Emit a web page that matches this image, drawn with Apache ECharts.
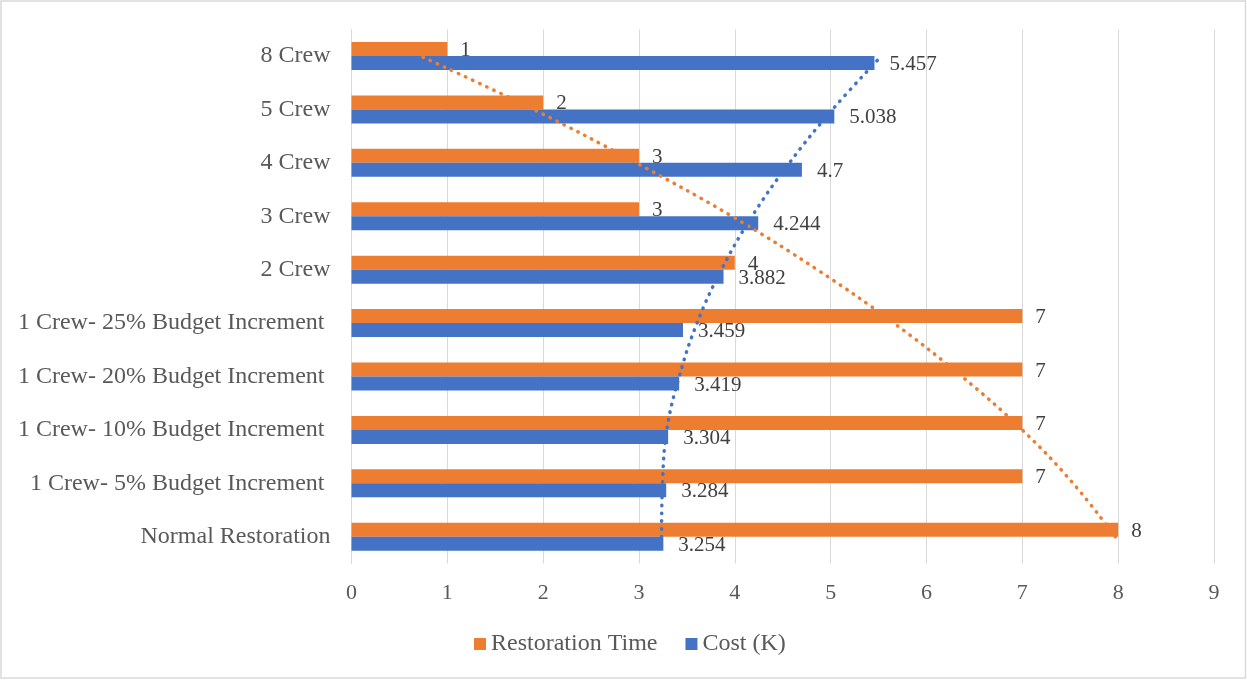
<!DOCTYPE html>
<html>
<head>
<meta charset="utf-8">
<script src="https://cdn.jsdelivr.net/npm/echarts@6/dist/echarts.min.js"></script>
<style>
html,body{margin:0;padding:0;background:#fff;}
#chart{width:1247px;height:680px;}
</style>
</head>
<body>
<div id="chart"></div>
<script>
// Categories, bottom to top
const categories = [
  'Normal Restoration',
  '1 Crew- 5% Budget Increment ',
  '1 Crew- 10% Budget Increment ',
  '1 Crew- 20% Budget Increment ',
  '1 Crew- 25% Budget Increment ',
  '2 Crew',
  '3 Crew',
  '4 Crew',
  '5 Crew',
  '8 Crew'
];
const restorationTime = [8, 7, 7, 7, 7, 4, 3, 3, 2, 1];
const costK = [3.254, 3.284, 3.304, 3.419, 3.459, 3.882, 4.244, 4.7, 5.038, 5.457];
// Dotted trendlines, values at each category
const restorationTrend = [7.97, 7.53, 7.00, 6.37, 5.66, 4.86, 3.97, 2.97, 1.90, 0.72];
const costTrend = [3.235, 3.245, 3.29, 3.42, 3.605, 3.86, 4.18, 4.57, 5.02, 5.53];
const xTicks = [0, 1, 2, 3, 4, 5, 6, 7, 8, 9];

const FONT = "'Liberation Serif', 'Times New Roman', serif";
const ORANGE = '#ED7D31';
const BLUE = '#4472C4';

const chart = echarts.init(document.getElementById('chart'), null, {renderer: 'canvas'});
chart.setOption({
  animation: false,
  backgroundColor: '#ffffff',
  textStyle: {fontFamily: FONT},
  graphic: [{
    type: 'rect',
    silent: true,
    shape: {x: 1, y: 1, width: 1244.5, height: 677},
    style: {fill: 'none', stroke: '#d9d9d9', lineWidth: 1.5},
    z: -10
  }],
  grid: {left: 351.5, right: 33, top: 29.3, bottom: 116.5, containLabel: false},
  legend: {
    data: ['Restoration Time', 'Cost (K)'],
    left: 469,
    top: 627,
    itemWidth: 12,
    itemHeight: 12,
    itemGap: 28,
    icon: 'rect',
    textStyle: {fontFamily: FONT, fontSize: 24, color: '#595959', lineHeight: 24}
  },
  xAxis: {
    type: 'value',
    min: xTicks[0],
    max: xTicks[xTicks.length - 1],
    interval: 1,
    axisLine: {show: false},
    axisTick: {show: false},
    splitLine: {show: true, lineStyle: {color: '#d9d9d9', width: 1}},
    axisLabel: {fontFamily: FONT, fontSize: 22, color: '#595959', margin: 19, lineHeight: 22}
  },
  yAxis: {
    type: 'category',
    data: categories,
    axisLine: {show: true, lineStyle: {color: '#d9d9d9', width: 1}},
    axisTick: {show: false},
    axisLabel: {fontFamily: FONT, fontSize: 24, color: '#595959', margin: 21, padding: [4, 0, 0, 0]}
  },
  series: [
    {
      name: 'Restoration Time',
      type: 'bar',
      data: restorationTime,
      barWidth: 14,
      barGap: '0%',
      itemStyle: {color: ORANGE},
      label: {show: true, position: 'right', distance: 13, offset: [0, 1.5], fontFamily: FONT, fontSize: 21, color: '#404040'},
      z: 2
    },
    {
      name: 'Cost (K)',
      type: 'bar',
      data: costK,
      barWidth: 14,
      barGap: '0%',
      itemStyle: {color: BLUE},
      label: {show: true, position: 'right', distance: 15, offset: [0, 1.5], fontFamily: FONT, fontSize: 21, color: '#404040'},
      z: 2
    },
    {
      name: 'Restoration Time trend',
      type: 'line',
      data: restorationTrend.map((v, i) => [v, i]),
      smooth: 0.4,
      symbol: 'none',
      silent: true,
      lineStyle: {color: ORANGE, width: 3.5, type: [0.5, 7.3], cap: 'round'},
      z: 3
    },
    {
      name: 'Cost trend',
      type: 'line',
      data: costTrend.map((v, i) => [v, i]),
      smooth: 0.4,
      symbol: 'none',
      silent: true,
      lineStyle: {color: BLUE, width: 3.5, type: [0.5, 7.3], cap: 'round'},
      z: 3
    }
  ]
});
</script>
</body>
</html>
